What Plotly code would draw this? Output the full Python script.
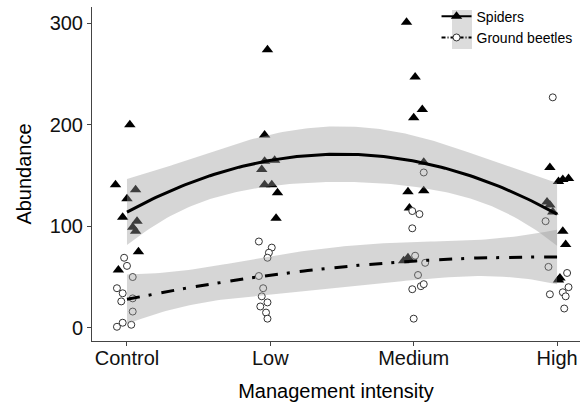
import numpy as np
import plotly.graph_objects as go

# ---------------- data ----------------
categories = ["Control", "Low", "Medium", "High"]
y_ticks = [0, 100, 200, 300]

# Spiders: jittered x position (1=Control .. 4=High) and abundance
spider_x = [1.02, 0.92, 1.06, 1.00, 0.97, 1.07, 1.04, 1.06, 1.08, 0.94,
            1.98, 1.96, 1.96, 2.03, 1.94, 1.96, 2.01, 2.05, 2.04,
            2.95, 3.01, 3.06, 3.00, 3.07, 2.96, 3.07, 2.97, 2.93, 2.96,
            3.95, 4.01, 4.04, 4.08, 3.93, 3.95, 3.97, 4.04, 4.06, 4.01, 4.02]
spider_y = [200, 141, 136, 127, 109, 105, 99, 95, 75, 57,
            274, 190, 164, 165, 156, 141, 141, 133, 108,
            301, 247, 215, 207, 163, 134, 135, 118, 66, 69,
            158, 144, 146, 147, 124, 121, 114, 95, 82, 47, 49]

# Ground beetles
beetle_x = [0.98, 1.00, 1.04, 0.93, 0.97, 0.96, 1.04, 1.04, 0.93, 0.97, 1.03,
            1.92, 2.01, 1.99, 1.98, 1.92, 1.95, 1.94, 1.98, 1.93, 1.97, 1.98,
            3.07, 2.99, 3.04, 2.99, 3.01, 3.08, 3.03, 2.99, 3.05, 3.07, 3.00,
            3.97, 3.92, 3.94, 4.07, 4.08, 3.95, 4.04, 4.06, 4.05]
beetle_y = [69, 61, 50, 39, 34, 26, 29, 16, 1, 5, 3,
            85, 79, 74, 69, 51, 39, 31, 25, 21, 15, 9,
            153, 115, 112, 98, 71, 64, 52, 38, 41, 43, 9,
            227, 105, 60, 54, 40, 33, 35, 31, 19]

# category index of each observation (used for the smooth, as in geom_smooth on unjittered x)
spider_group = [1] * 10 + [2] * 9 + [3] * 10 + [4] * 11
beetle_group = [1] * 11 + [2] * 11 + [3] * 11 + [4] * 9


# ---------------- quadratic lm smooth with 95% CI ----------------
def t975(df):
    z = 1.959964
    return z + (z**3 + z) / (4 * df) + (5 * z**5 + 16 * z**3 + 3 * z) / (96 * df**2)


def quad_smooth(g, y, grid):
    g = np.asarray(g, float)
    y = np.asarray(y, float)
    X = np.column_stack([np.ones_like(g), g, g**2])
    beta, *_ = np.linalg.lstsq(X, y, rcond=None)
    resid = y - X @ beta
    df = len(y) - 3
    s2 = resid @ resid / df
    XtX_inv = np.linalg.inv(X.T @ X)
    G = np.column_stack([np.ones_like(grid), grid, grid**2])
    fit = G @ beta
    se = np.sqrt(s2 * np.einsum("ij,jk,ik->i", G, XtX_inv, G))
    t = t975(df)
    return fit, fit - t * se, fit + t * se


grid = np.linspace(1, 4, 120)
sp_fit, sp_lo, sp_hi = quad_smooth(spider_group, spider_y, grid)
be_fit, be_lo, be_hi = quad_smooth(beetle_group, beetle_y, grid)

FONT = "Arial, Liberation Sans, sans-serif"
ribbon = "rgba(153,153,153,0.4)"
beetle_dash = "13px,9px,3px,10px"

fig = go.Figure()

# points
fig.add_trace(go.Scatter(
    x=spider_x, y=spider_y, mode="markers", showlegend=False, cliponaxis=False,
    marker=dict(symbol="triangle-up", size=10, color="black", line=dict(width=0)),
))
fig.add_trace(go.Scatter(
    x=beetle_x, y=beetle_y, mode="markers", showlegend=False, cliponaxis=False,
    marker=dict(symbol="circle", size=7, color="white", line=dict(width=1, color="#333333")),
))

# ribbons (drawn over points, semi-transparent)
for lo, hi in [(sp_lo, sp_hi), (be_lo, be_hi)]:
    fig.add_trace(go.Scatter(
        x=np.concatenate([grid, grid[::-1]]),
        y=np.concatenate([hi, lo[::-1]]),
        fill="toself", fillcolor=ribbon, line=dict(width=0),
        mode="lines", showlegend=False, hoverinfo="skip",
    ))

# fitted lines
fig.add_trace(go.Scatter(x=grid, y=sp_fit, mode="lines", showlegend=False,
                         line=dict(color="black", width=3)))
fig.add_trace(go.Scatter(x=grid, y=be_fit, mode="lines", showlegend=False,
                         line=dict(color="black", width=3, dash=beetle_dash)))

# legend entries
fig.add_trace(go.Scatter(
    x=[None], y=[None], mode="lines+markers", name="Spiders",
    marker=dict(symbol="triangle-up", size=10, color="black"),
    line=dict(color="black", width=2),
))
fig.add_trace(go.Scatter(
    x=[None], y=[None], mode="lines+markers", name="Ground beetles",
    marker=dict(symbol="circle", size=7, color="white", line=dict(width=1, color="#333333")),
    line=dict(color="black", width=2, dash="4px,2px,1px,2px"),
))

# grey legend-key background (ggplot key with ribbon fill)
fig.add_shape(type="rect", xref="paper", yref="paper",
              x0=(452 - 92) / 488, x1=(472 - 92) / 488,
              y0=(341 - 49) / 334, y1=(341 - 10) / 334,
              fillcolor="#dcdcdc", line=dict(width=0), layer="above")

fig.update_layout(
    width=580, height=409,
    margin=dict(l=92, r=0, t=7, b=68),
    paper_bgcolor="white", plot_bgcolor="white",
    font=dict(family=FONT, color="black"),
    showlegend=True,
    legend=dict(
        x=0.706, y=1.019, xanchor="left", yanchor="top",
        bgcolor="rgba(0,0,0,0)", font=dict(size=14, family=FONT),
        itemwidth=30, tracegroupgap=0,
    ),
    xaxis=dict(
        range=[0.756, 4.16], tickmode="array", tickvals=[1, 2, 3, 4], ticktext=categories,
        showgrid=False, zeroline=False, showline=True, linecolor="#444444", linewidth=1,
        ticks="outside", ticklen=4, tickcolor="#444444", ticklabelstandoff=-5,
        tickfont=dict(size=20, color="#111111"),
        title=dict(text="Management intensity", font=dict(size=20), standoff=15),
    ),
    yaxis=dict(
        range=[-13, 316], tickmode="array", tickvals=y_ticks,
        showgrid=False, zeroline=False, showline=True, linecolor="#444444", linewidth=1,
        ticks="outside", ticklen=4, tickcolor="#444444",
        tickfont=dict(size=20, color="#111111"),
        title=dict(text="Abundance", font=dict(size=20), standoff=12),
    ),
)

fig.write_html("out.html", config={"displayModeBar": False},
               post_script="document.body.style.margin='0';")
